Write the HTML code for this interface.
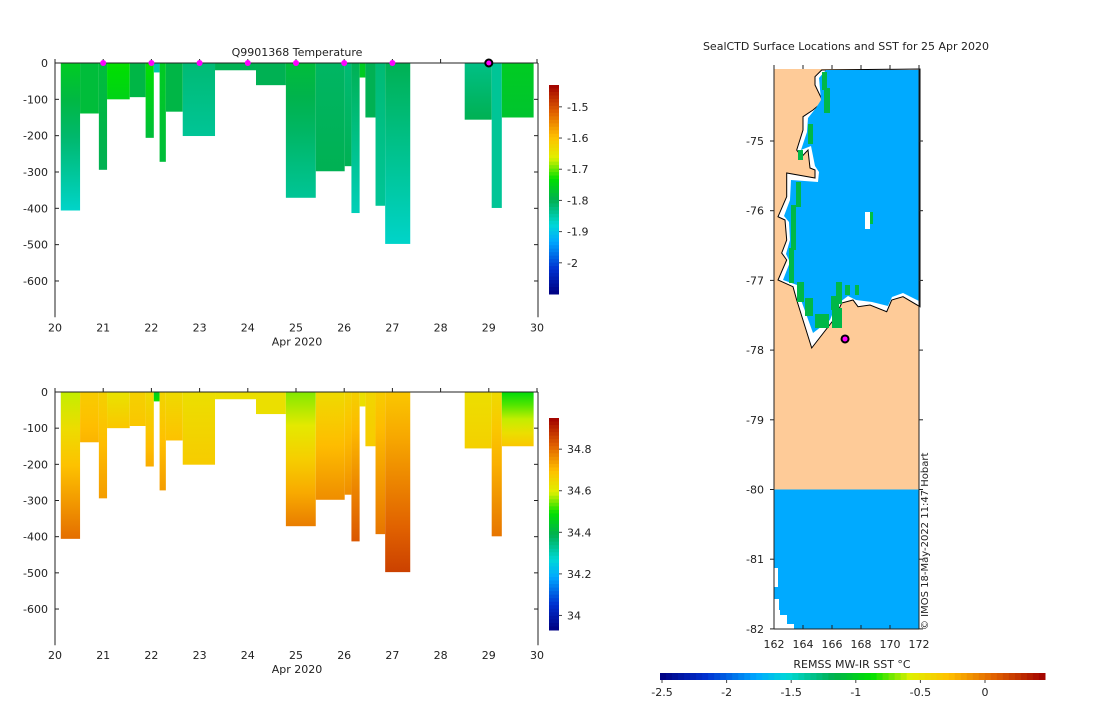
<!DOCTYPE html>
<html><head><meta charset="utf-8"><style>
body{margin:0;background:#fff;font-family:"Liberation Sans","DejaVu Sans",sans-serif}
svg text{font-family:"DejaVu Sans","Liberation Sans",sans-serif;font-size:11px;fill:#222}
</style></head><body>
<svg id="fig" width="1100" height="700" viewBox="0 0 1100 700" xmlns="http://www.w3.org/2000/svg">
<defs id="defs"></defs>
<g id="temp-panel"></g>
<g id="sal-panel"></g>
<g id="map-panel"></g>
</svg>
<script>
// ---------- data ----------
const profStart = [20.12,20.52,20.91,21.08,21.55,21.88,22.05,22.17,22.30,22.65,23.32,24.17,24.79,25.41,26.01,26.15,26.32,26.44,26.65,26.85,28.50,29.06,29.27];
const profEnd   = [20.52,20.91,21.08,21.55,21.88,22.05,22.17,22.30,22.65,23.32,24.17,24.79,25.41,26.01,26.15,26.32,26.44,26.65,26.85,27.37,29.06,29.27,29.93];
const profDepth = [406,139,294,100,94,206,26,272,134,201,20,61,371,298,284,413,40,150,393,498,156,399,150];
const tempTop   = [-1.76,-1.78,-1.78,-1.73,-1.79,-1.73,-1.85,-1.76,-1.79,-1.82,-1.80,-1.80,-1.78,-1.81,-1.82,-1.80,-1.76,-1.80,-1.82,-1.80,-1.83,-1.84,-1.76];
const tempBot   = [-1.87,-1.78,-1.80,-1.75,-1.79,-1.78,-1.85,-1.78,-1.79,-1.84,-1.80,-1.80,-1.84,-1.80,-1.80,-1.86,-1.76,-1.80,-1.84,-1.87,-1.80,-1.84,-1.77];
const salTop    = [34.58,34.67,34.66,34.62,34.66,34.64,34.45,34.65,34.64,34.63,34.63,34.63,34.55,34.64,34.65,34.66,34.63,34.65,34.67,34.68,34.63,34.64,34.48];
const salBot    = [34.80,34.71,34.74,34.68,34.68,34.72,34.50,34.74,34.69,34.67,34.63,34.63,34.78,34.76,34.76,34.83,34.63,34.67,34.79,34.86,34.66,34.79,34.68];
const markerDays = [21,22,23,24,25,26,27];
const currentDay = 29;
const dayTicks = [20,21,22,23,24,25,26,27,28,29,30];
const depthTicks = [0,-100,-200,-300,-400,-500,-600];
const tempCbTicks = [-1.5,-1.6,-1.7,-1.8,-1.9,-2];
const salCbTicks = [34.8,34.6,34.4,34.2,34];
const lonTicks = [162,164,166,168,170,172];
const latTicks = [-75,-76,-77,-78,-79,-80,-81,-82];
const sstTicks = [-2.5,-2,-1.5,-1,-0.5,0];
const sealLon = 166.9, sealLat = -77.84;

const NS='http://www.w3.org/2000/svg';
function mk(tag, attrs, parent){const e=document.createElementNS(NS,tag);for(const k in attrs)e.setAttribute(k,attrs[k]);if(parent)parent.appendChild(e);return e;}
const cstops=[[0,[0,0,128]],[0.12,[0,48,208]],[0.25,[0,168,255]],[0.33,[0,216,216]],[0.45,[0,176,80]],[0.55,[0,224,0]],[0.65,[224,240,0]],[0.75,[255,192,0]],[0.87,[224,96,0]],[1,[160,0,0]]];
function cmap(t){t=Math.max(0,Math.min(1,t));for(let i=1;i<cstops.length;i++){if(t<=cstops[i][0]){const a=cstops[i-1],b=cstops[i];const f=(t-a[0])/(b[0]-a[0]);const c=a[1].map((v,j)=>Math.round(v+(b[1][j]-v)*f));return `rgb(${c[0]},${c[1]},${c[2]})`;}}return 'rgb(160,0,0)';}
const defs=document.getElementById('defs');

function section(gid, y0, pxPerM, vTop, vBot, vmin, vmax, cbTop, cbBot, cbTicks, title, key){
  const g=document.getElementById(gid);
  const x=d=>55+(d-20)*48.2;
  const y=m=>y0+m*pxPerM;
  const boxBot=y0+700*pxPerM;
  for(let i=0;i<profStart.length;i++){
    const gr=mk('linearGradient',{id:key+'g'+i,x1:0,y1:0,x2:0,y2:1},defs);
    for(let s=0;s<=4;s++){const v=vTop[i]+(vBot[i]-vTop[i])*s/4;mk('stop',{offset:s/4,'stop-color':cmap((v-vmin)/(vmax-vmin))},gr);}
    const r=mk('rect',{x:x(profStart[i]),y:y(0),width:x(profEnd[i])-x(profStart[i]),height:profDepth[i]*pxPerM,fill:`url(#${key}g${i})`},g);
    
    
  }
  mk('path',{d:`M55,${y0}V${boxBot}M538,${y0}V${boxBot}M55,${y0}H538`,stroke:'#222','stroke-width':1,fill:'none'},g);
  dayTicks.forEach(d=>{mk('line',{x1:x(d),x2:x(d),y1:y0,y2:y0-4,stroke:'#222'},g);
    const t=mk('text',{x:x(d),y:boxBot+14,'text-anchor':'middle'},g);t.textContent=d;
    });
  depthTicks.forEach(m=>{mk('line',{x1:55,x2:59,y1:y(-m),y2:y(-m),stroke:'#222'},g);mk('line',{x1:534,x2:538,y1:y(-m),y2:y(-m),stroke:'#222'},g);
    const t=mk('text',{x:48,y:y(-m)+4,'text-anchor':'end'},g);t.textContent=m;
    });
  const xl=mk('text',{x:297,y:boxBot+28,'text-anchor':'middle'},g);xl.textContent='Apr 2020';
  
  if(title){const tt=mk('text',{x:297,y:y0-7,'text-anchor':'middle'},g);tt.textContent=title;
    }
  const cb=mk('g',{},g);
  const n=60,h=(cbBot-cbTop)/n;
  for(let k=0;k<n;k++){mk('rect',{x:549,y:cbTop+k*h,width:10,height:h+0.5,fill:cmap(1-(k+0.5)/n)},cb);}
  cbTicks.forEach(v=>{const yy=cbBot-(v-vmin)/(vmax-vmin)*(cbBot-cbTop);
    mk('line',{x1:559,x2:562,y1:yy,y2:yy,stroke:'#444'},cb);
    const t=mk('text',{x:567,y:yy+4},cb);t.textContent=v;
    });
  return {x,y};
}
const T=section('temp-panel',63,0.3633,tempTop,tempBot,-2.1,-1.43,85,294,tempCbTicks,'Q9901368  Temperature','temp');
section('sal-panel',392,0.3617,salTop,salBot,33.93,34.95,418,630,salCbTicks,null,'sal');
const tg=document.getElementById('temp-panel');
markerDays.forEach(d=>{const c=mk('circle',{cx:T.x(d),cy:63,r:3,fill:'#ff00ff'},tg);
  });
const cm=mk('circle',{cx:T.x(currentDay),cy:63,r:3.5,fill:'#ff00ff',stroke:'#000','stroke-width':2},tg);


// ---------- map ----------
const mg=document.getElementById('map-panel');
const mx=lon=>774+(lon-162)*14.5;
const my=lat=>141+(-75-lat)*69.7;
mk('rect',{x:774,y:69,width:145,height:421,fill:'#fecb98'},mg);
const coast=[[821.7,70],[815,76.7],[815,85],[823,101.7],[813,110],[803,116.7],[803,130],[796.7,150],[801.7,156.7],[808,150],[810,168],[815,170],[815,178],[786.7,173],[786.7,196.7],[778,216.7],[785,220],[786.7,240],[781.7,253],[786.7,260],[778,280],[793,286.7],[796.7,300],[811.7,348],[835,318],[841.7,303],[853,300],[858,306.7],[870,305],[886.7,311.7],[891.7,300],[903,296.7],[920,306.7],[920,69]];
const sea=mk('polygon',{points:coast.map(p=>p.join(',')).join(' '),fill:'#fff',stroke:'#000','stroke-width':1},mg);

const inner=[[826,70],[819,78],[821,100],[816,108],[808,118],[807,132],[801,150],[811,146],[815,166],[819,172],[818,182],[791,180],[790,200],[784,216],[789,222],[790,240],[786,254],[790,262],[783,280],[797,285],[801,300],[813,333],[830,320],[836,305],[848,296],[856,300],[872,302],[888,306],[892,297],[903,293],[919,301],[919,70]];
mk('polygon',{points:inner.map(p=>p.join(',')).join(' '),fill:'#00aaff'},mg);
[[822,72,5,18],[824,88,6,25],[808,124,5,20],[798,150,5,10],[796,182,5,25],[791,205,5,45],[789,248,5,35],[797,282,7,20],[805,298,8,18],[815,314,14,14],[832,308,10,20],[836,282,6,22],[845,285,5,10],[855,285,4,10],[831,296,8,14]].forEach(r=>{
  const e=mk('rect',{x:r[0],y:r[1],width:r[2],height:r[3],fill:'#00b848'},mg);
  });
mk('rect',{x:865,y:212,width:5,height:17,fill:'#fff'},mg);
mk('rect',{x:870,y:212,width:3,height:12,fill:'#00c040'},mg);
mk('rect',{x:774,y:my(-80),width:145,height:my(-82)-my(-80),fill:'#00aaff'},mg);
mk('polygon',{points:`774,568 778,568 778,587 774,587 774,599 779,599 779,610 780,610 780,615 787,615 787,624 794,624 794,629 774,629`,fill:'#fff'},mg);
mk('path',{d:'M774,629V69M919,629V69M774,629H919',stroke:'#222',fill:'none'},mg);
const sm=mk('circle',{cx:mx(sealLon),cy:my(sealLat),r:3.5,fill:'#ff00ff',stroke:'#000','stroke-width':2},mg);

lonTicks.forEach(l=>{mk('line',{x1:mx(l),x2:mx(l),y1:629,y2:625,stroke:'#222'},mg);mk('line',{x1:mx(l),x2:mx(l),y1:69,y2:65,stroke:'#222'},mg);
  const t=mk('text',{x:mx(l),y:648,'text-anchor':'middle'},mg);t.textContent=l;
  });
latTicks.forEach(l=>{mk('line',{x1:774,x2:770,y1:my(l),y2:my(l),stroke:'#222'},mg);mk('line',{x1:919,x2:923,y1:my(l),y2:my(l),stroke:'#222'},mg);
  const t=mk('text',{x:764,y:my(l)+4,'text-anchor':'end'},mg);t.textContent=l;
  });
const mt=mk('text',{x:846,y:50,'text-anchor':'middle'},mg);mt.textContent='SealCTD Surface Locations and SST for 25 Apr 2020';

const cr=mk('text',{x:0,y:0,transform:'translate(928,630) rotate(-90)',style:'font-size:10px'},mg);cr.textContent='© IMOS 18-May-2022 11:47 Hobart';

const hb=mk('g',{},mg);
const sx=v=>662+(v+2.5)*129.2;
for(let k=0;k<64;k++){const w=(1045-660)/64;mk('rect',{x:660+k*w,y:673,width:w+0.5,height:7,fill:cmap((k+0.5)/64)},hb);}
sstTicks.forEach(v=>{mk('line',{x1:sx(v),x2:sx(v),y1:680,y2:683,stroke:'#444'},hb);
  const t=mk('text',{x:sx(v),y:696,'text-anchor':'middle'},hb);t.textContent=v;
  });
const st=mk('text',{x:852,y:668,'text-anchor':'middle'},hb);st.textContent='REMSS MW-IR SST °C';

</script>
</body></html>
